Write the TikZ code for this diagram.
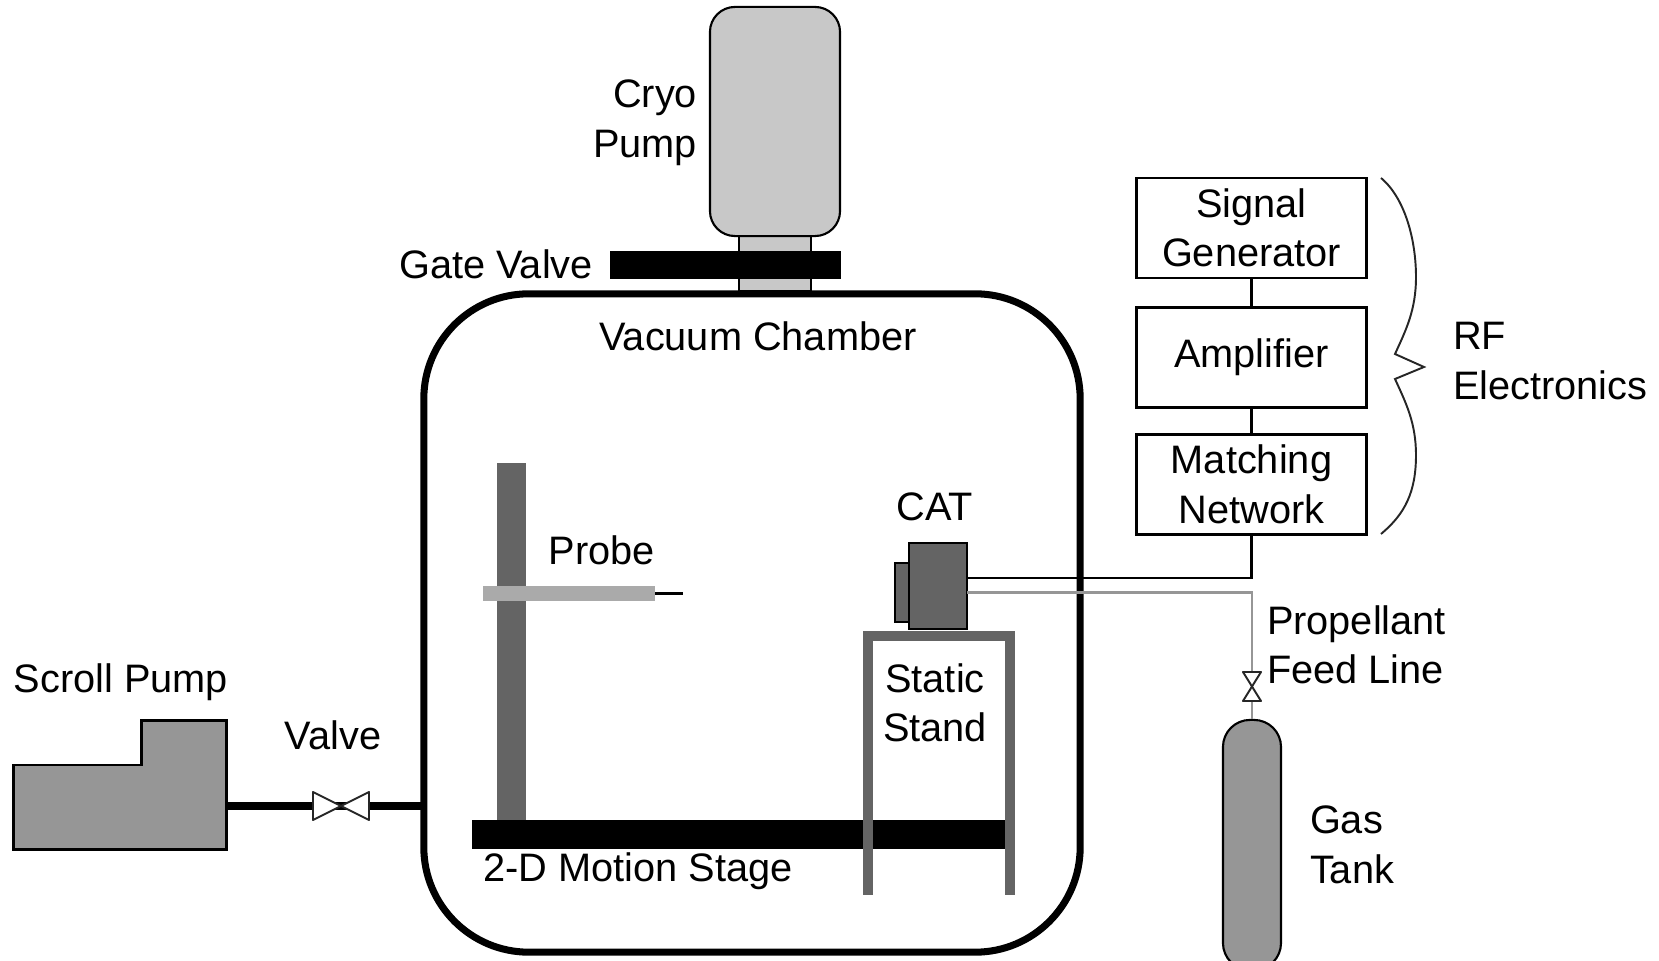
\documentclass[tikz,border=0pt]{standalone}
\usepackage{fontspec}
\setmainfont{Liberation Sans}
\usepackage{xcolor}
\usetikzlibrary{positioning}
\definecolor{pumpgray}{RGB}{150,150,150}
\definecolor{cryogray}{RGB}{200,200,200}
\definecolor{catgray}{RGB}{100,100,100}
\definecolor{probegray}{RGB}{170,170,170}
\definecolor{linegray}{RGB}{150,150,150}
\tikzstyle{lbl} = [inner sep=0pt, outer sep=0pt, align=center, font=\fontsize{11.3}{14.1}\selectfont]
\tikzstyle{elecbox} = [rectangle, minimum width=2.3cm, minimum height=1cm, inner sep=0pt, align=center, font=\fontsize{11.3}{14.1}\selectfont, draw=black, fill=white, thick]
\tikzstyle{solidbar} = [rectangle, inner sep=0pt, outer sep=0pt]
\tikzstyle{outlined} = [rectangle, inner sep=0pt, draw=black, line width=0.6pt]
\tikzstyle{wire} = [line width=0.8pt, color=black]
\tikzstyle{gasline} = [line width=0.8pt, color=linegray]
\tikzstyle{pipe} = [line width=2pt, color=black]
\tikzstyle{valve} = [draw=black!85, fill=white, line width=0.55pt, line join=round]

\begin{document}
\begin{tikzpicture}[x=0.01cm,y=-0.01cm]
\useasboundingbox (0,0) rectangle (1659,961);

% Chamber
\node[rectangle, draw=black, line width=2pt, rounded corners=1.05cm, minimum width=6.56cm, minimum height=6.58cm, inner sep=0pt, outer sep=0pt] (chamber) at (752,623) {};

% Cryo pump and gate valve
\node[outlined, fill=cryogray, thick, minimum width=0.72cm, minimum height=0.55cm] (neck) at (775,263.5) {};
\node[outlined, fill=cryogray, rounded corners=0.25cm, minimum width=1.3cm, minimum height=2.29cm] (cryo) at (775,121.5) {};
\node[solidbar, fill=black, minimum width=2.31cm, minimum height=0.28cm] (gate) at (725.5,265) {};

% Inside the chamber
\node[solidbar, fill=catgray, minimum width=0.29cm, minimum height=3.57cm] (post) at (511.5,641.5) {};
\node[solidbar, fill=probegray, minimum width=1.72cm, minimum height=0.15cm] (probe) at (569,593.5) {};
\coordinate (probetip) at (683,593.5);
\draw[wire] (probe.east) -- (probetip);
\node[solidbar, fill=black, minimum width=5.33cm, minimum height=0.29cm] (stage) at (738.5,834.5) {};
\coordinate (standfl) at (868,895);
\coordinate (standtl) at (868,636);
\coordinate (standtr) at (1010,636);
\coordinate (standfr) at (1010,895);
\draw[line width=0.1cm, color=catgray, line join=miter] (standfl) -- (standtl) -- (standtr) -- (standfr);

% CAT
\node[outlined, fill=catgray, minimum width=0.14cm, minimum height=0.59cm] (catback) at (902,592.5) {};
\node[outlined, fill=catgray, minimum width=0.58cm, minimum height=0.86cm] (cat) at (938,586) {};

% Scroll pump
\draw[fill=pumpgray, draw=black, thick] (13.5,765) -- (141.5,765) -- (141.5,720.5) -- (226.5,720.5) -- (226.5,849.5) -- (13.5,849.5) -- cycle;
\coordinate (pumpout) at (228,806);
\draw[pipe] (pumpout) -- (pumpout -| chamber.west);
\coordinate (mainvalve) at (341,806);
\draw[valve] (mainvalve) -- ++(-28,-14) -- ++(0,28) -- cycle;
\draw[valve] (mainvalve) -- ++(28,-14) -- ++(0,28) -- cycle;

% RF electronics
\node[elecbox] (siggen) at (1251.5,228) {Signal\\Generator};
\node[elecbox] (amp) at (1251.5,357.5) {Amplifier};
\node[elecbox] (match) at (1251.5,484.5) {Matching\\Network};
\coordinate (catrf) at (967,578);
\draw[wire] (siggen.south) -- (amp.north);
\draw[wire] (amp.south) -- (match.north);
\draw[wire] (match.south) |- (catrf);

% Brace
\draw[line width=0.55pt, color=black!85] (1381,178) .. controls (1405,198) and (1416,240) .. (1416,277) .. controls (1416,310) and (1406,330) .. (1395,354) -- (1424,367) -- (1395,379) .. controls (1406,403) and (1416,423) .. (1416,455) .. controls (1416,492) and (1405,514) .. (1381,534);

% Gas feed
\node[outlined, fill=pumpgray, rounded corners=0.27cm, minimum width=0.58cm, minimum height=2.5cm] (tank) at (1252,845) {};
\coordinate (catgas) at (967,592.5);
\coordinate (feedvalve) at (1252,686.5);
\draw[gasline] (catgas) -| (feedvalve);
\draw[gasline] (feedvalve) -- (tank.north);
\draw[valve] (feedvalve) -- ++(-9,-14.5) -- ++(18,0) -- cycle;
\draw[valve] (feedvalve) -- ++(-9,14.5) -- ++(18,0) -- cycle;

% Labels
\node[lbl, anchor=east, align=right] (cryolbl) at (697,122.5) {Cryo\\Pump};
\node[lbl] (gatelbl) at (496,264.5) {Gate Valve};
\node[lbl] (chamberlbl) at (758,336) {Vacuum Chamber};
\node[lbl] (probelbl) at (602,550) {Probe};
\node[lbl] (catlbl) at (935,507) {CAT};
\node[lbl] (standlbl) at (935,703) {Static\\Stand};
\node[lbl] (stagelbl) at (638,871) {2-D Motion Stage};
\node[lbl] (scrolllbl) at (121,682) {Scroll Pump};
\node[lbl] (valvelbl) at (333,735) {Valve};
\node[lbl, anchor=west, align=left] (rflbl) at (1453,361) {RF\\Electronics};
\node[lbl, anchor=west, align=left] (feedlbl) at (1267,645) {Propellant\\Feed Line};
\node[lbl, anchor=west, align=left] (tanklbl) at (1310,845) {Gas\\Tank};
\end{tikzpicture}
\end{document}
